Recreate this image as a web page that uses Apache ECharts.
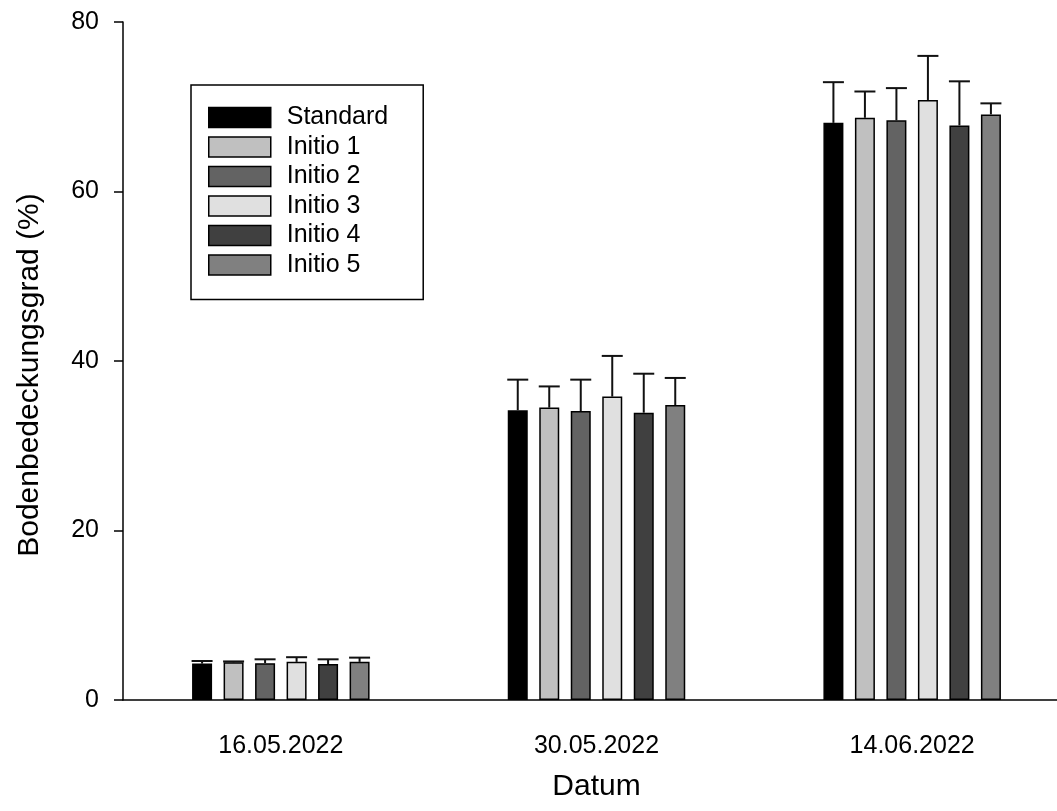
<!DOCTYPE html>
<html>
<head>
<meta charset="utf-8">
<script src="https://cdn.jsdelivr.net/npm/echarts@6/dist/echarts.min.js"></script>
<style>
  html, body { margin: 0; padding: 0; background: #fff; }
  #chart { width: 1057px; height: 811px; }
</style>
</head>
<body>
<div id="chart"></div>
<script>
// Bodenbedeckungsgrad (%) per sampling date and treatment (mean + upper error)
const dates = ['16.05.2022', '30.05.2022', '14.06.2022'];
const treatments = ['Standard', 'Initio 1', 'Initio 2', 'Initio 3', 'Initio 4', 'Initio 5'];

const standardMean = [4.3, 34.2, 68.1];
const initio1Mean  = [4.45, 34.5, 68.7];
const initio2Mean  = [4.35, 34.1, 68.4];
const initio3Mean  = [4.5, 35.8, 70.8];
const initio4Mean  = [4.25, 33.9, 67.8];
const initio5Mean  = [4.5, 34.8, 69.1];

const standardErr = [0.3, 3.6, 4.8];
const initio1Err  = [0.1, 2.5, 3.1];
const initio2Err  = [0.45, 3.7, 3.8];
const initio3Err  = [0.55, 4.8, 5.2];
const initio4Err  = [0.55, 4.6, 5.2];
const initio5Err  = [0.5, 3.2, 1.3];

const yTicks = [0, 20, 40, 60, 80];

const means = [standardMean, initio1Mean, initio2Mean, initio3Mean, initio4Mean, initio5Mean];
const errs  = [standardErr, initio1Err, initio2Err, initio3Err, initio4Err, initio5Err];
const fills = ['#000000', '#c0c0c0', '#636363', '#e0e0e0', '#404040', '#808080'];

const FONT = 'Liberation Sans, Arial, sans-serif';
const BAR_W = 20;
const BAR_SPACE = 11.5;
const CAP_W = 21;

const chart = echarts.init(document.getElementById('chart'), null, { renderer: 'canvas' });

const barSeries = treatments.map((name, i) => ({
  name: name,
  type: 'bar',
  data: means[i],
  barWidth: BAR_W,
  barGap: (BAR_SPACE / BAR_W * 100) + '%',
  itemStyle: { color: fills[i], borderColor: '#000', borderWidth: 1.5 },
  z: 3
}));

// upward error whiskers, placed at each bar's offset inside its category
const n = treatments.length;
const errSeries = treatments.map((name, i) => ({
  type: 'custom',
  silent: true,
  z: 2,
  data: means[i].map((v, k) => [k, v, errs[i][k]]),
  renderItem: function (params, api) {
    const k = api.value(0);
    const v = api.value(1);
    const e = api.value(2);
    const total = n * BAR_W + (n - 1) * BAR_SPACE;
    const offset = -total / 2 + BAR_W / 2 + i * (BAR_W + BAR_SPACE);
    const base = api.coord([k, v]);
    const top = api.coord([k, v + e]);
    const x = base[0] + offset;
    const style = { stroke: '#111', lineWidth: 2 };
    return {
      type: 'group',
      children: [
        { type: 'line', shape: { x1: x, y1: base[1], x2: x, y2: top[1] }, style: style },
        { type: 'line', shape: { x1: x - CAP_W / 2, y1: top[1], x2: x + CAP_W / 2, y2: top[1] }, style: style }
      ]
    };
  }
}));

chart.setOption({
  animation: false,
  backgroundColor: '#fff',
  textStyle: { fontFamily: FONT, color: '#000' },
  // the x axis runs past the right edge of the canvas
  grid: { left: 123, top: 22, width: 947, bottom: 111, containLabel: false, outerBoundsMode: 'none' },
  legend: {
    data: treatments,
    orient: 'vertical',
    left: 191,
    top: 85,
    padding: [20, 35, 22, 17],
    borderColor: '#000',
    borderWidth: 1.5,
    itemWidth: 62,
    itemHeight: 20,
    itemGap: 4.5,
    icon: 'rect',
    selectedMode: false,
    itemStyle: { borderColor: '#000', borderWidth: 1.5 },
    textStyle: { fontFamily: FONT, fontSize: 25, color: '#000', padding: [0, 0, 0, 11] }
  },
  xAxis: {
    type: 'category',
    data: dates,
    name: 'Datum',
    nameLocation: 'middle',
    nameGap: 72,
    nameTextStyle: { fontFamily: FONT, fontSize: 30, color: '#000' },
    axisLine: { lineStyle: { color: '#000', width: 1.5 } },
    axisTick: { alignWithLabel: true, length: 10, lineStyle: { color: '#000', width: 1.5 } },
    axisLabel: { fontFamily: FONT, fontSize: 25, color: '#000', margin: 34 },
    splitLine: { show: false }
  },
  yAxis: {
    type: 'value',
    min: 0,
    max: 80,
    interval: 20,
    name: 'Bodenbedeckungsgrad (%)',
    nameLocation: 'middle',
    nameGap: 78,
    nameTextStyle: { fontFamily: FONT, fontSize: 30, color: '#000', padding: [0, 28, 0, 0] },
    axisLine: { show: true, lineStyle: { color: '#000', width: 1.5 } },
    axisTick: { show: true, length: 9, lineStyle: { color: '#000', width: 1.5 } },
    axisLabel: {
      fontFamily: FONT, fontSize: 25, color: '#000', margin: 24,
      formatter: v => (yTicks.indexOf(v) >= 0 ? String(v) : '')
    },
    splitLine: { show: false }
  },
  series: errSeries.concat(barSeries)
});
</script>
</body>
</html>
